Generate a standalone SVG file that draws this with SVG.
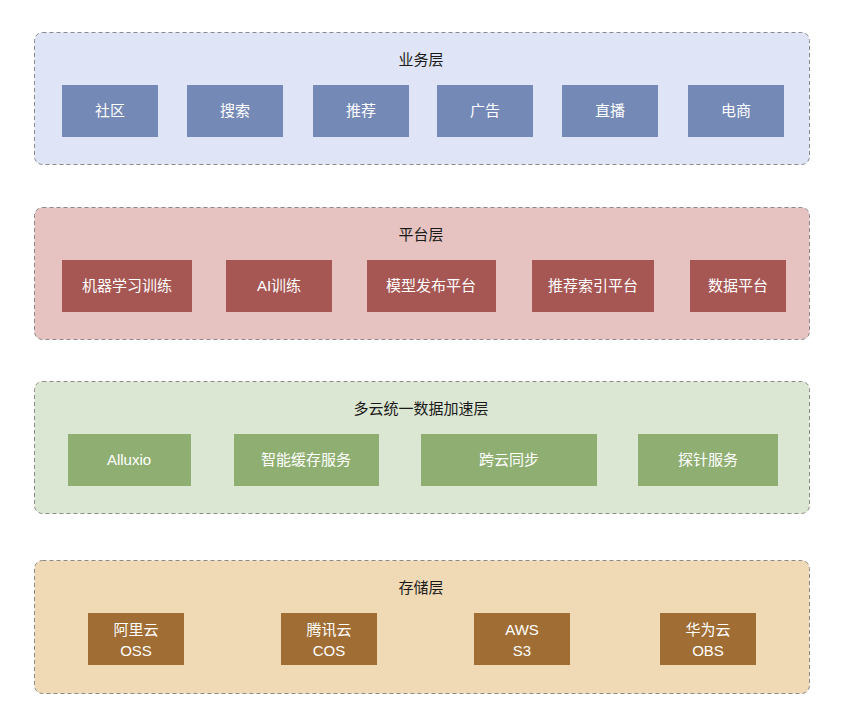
<svg xmlns="http://www.w3.org/2000/svg" width="842" height="720" viewBox="0 0 842 720">
<style>
.layer{stroke:#8a8a8a;stroke-width:1;stroke-dasharray:4 3}
text{font-family:"Liberation Sans","Noto Sans CJK SC",sans-serif;font-size:15px;text-anchor:middle}
.t{fill:#1a1a1a}
.w{fill:#ffffff}
.b1{fill:#7489b6}.b2{fill:#a65653}.b3{fill:#8faf72}.b4{fill:#a06d34}
</style>
<rect width="842" height="720" fill="#ffffff"/>
<g id="layer-business">
<rect class="layer" x="34.5" y="32.5" width="775" height="132" rx="8" fill="#dfe5f6"/>
<text class="t" x="421" y="65">业务层</text>
<rect class="b1" x="62" y="85" width="96" height="52"/><text class="w" x="110" y="116">社区</text>
<rect class="b1" x="187" y="85" width="96" height="52"/><text class="w" x="235" y="116">搜索</text>
<rect class="b1" x="313" y="85" width="96" height="52"/><text class="w" x="361" y="116">推荐</text>
<rect class="b1" x="437" y="85" width="96" height="52"/><text class="w" x="485" y="116">广告</text>
<rect class="b1" x="562" y="85" width="96" height="52"/><text class="w" x="610" y="116">直播</text>
<rect class="b1" x="688" y="85" width="96" height="52"/><text class="w" x="736" y="116">电商</text>
</g>
<g id="layer-platform">
<rect class="layer" x="34.5" y="207.5" width="775" height="132" rx="8" fill="#e6c3c0"/>
<text class="t" x="421" y="240">平台层</text>
<rect class="b2" x="62" y="260" width="130" height="52"/><text class="w" x="127" y="291">机器学习训练</text>
<rect class="b2" x="226" y="260" width="106" height="52"/><text class="w" x="279" y="291">AI训练</text>
<rect class="b2" x="367" y="260" width="129" height="52"/><text class="w" x="431" y="291">模型发布平台</text>
<rect class="b2" x="532" y="260" width="122" height="52"/><text class="w" x="593" y="291">推荐索引平台</text>
<rect class="b2" x="690" y="260" width="96" height="52"/><text class="w" x="738" y="291">数据平台</text>
</g>
<g id="layer-acceleration">
<rect class="layer" x="34.5" y="381.5" width="775" height="132" rx="8" fill="#dce7d3"/>
<text class="t" x="421" y="414">多云统一数据加速层</text>
<rect class="b3" x="68" y="434" width="123" height="52"/><text class="w" x="129" y="465">Alluxio</text>
<rect class="b3" x="234" y="434" width="145" height="52"/><text class="w" x="306" y="465">智能缓存服务</text>
<rect class="b3" x="421" y="434" width="176" height="52"/><text class="w" x="509" y="465">跨云同步</text>
<rect class="b3" x="638" y="434" width="140" height="52"/><text class="w" x="708" y="465">探针服务</text>
</g>
<g id="layer-storage">
<rect class="layer" x="34.5" y="560.5" width="775" height="133" rx="8" fill="#f0dab6"/>
<text class="t" x="421" y="593">存储层</text>
<rect class="b4" x="88" y="613" width="96" height="52"/><text class="w" x="136" y="635">阿里云</text><text class="w" x="136" y="656">OSS</text>
<rect class="b4" x="281" y="613" width="96" height="52"/><text class="w" x="329" y="635">腾讯云</text><text class="w" x="329" y="656">COS</text>
<rect class="b4" x="474" y="613" width="96" height="52"/><text class="w" x="522" y="635">AWS</text><text class="w" x="522" y="656">S3</text>
<rect class="b4" x="660" y="613" width="96" height="52"/><text class="w" x="708" y="635">华为云</text><text class="w" x="708" y="656">OBS</text>
</g>
<g id="connectors"/>
</svg>
